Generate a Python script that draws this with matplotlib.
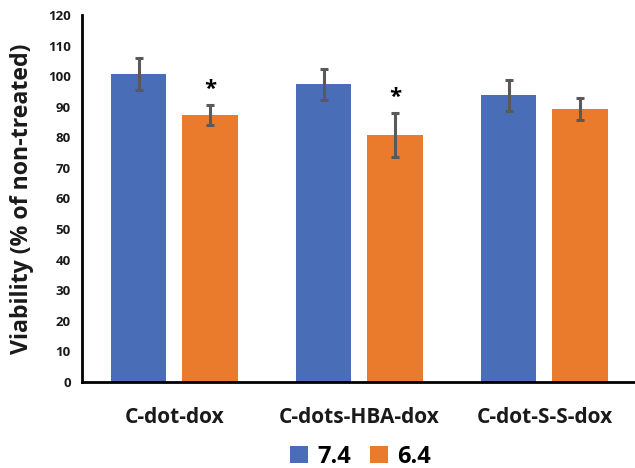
import matplotlib
matplotlib.use("Agg")
import matplotlib.pyplot as plt
import numpy as np
from matplotlib.patches import Patch

plt.rcParams['font.family'] = ['Open Sans', 'DejaVu Sans']

categories = ["C-dot-dox", "C-dots-HBA-dox", "C-dot-S-S-dox"]
series_names = ["7.4", "6.4"]
ph74 = [100.6, 97.3, 93.7]
ph74_err = [5.2, 5.1, 5.0]
ph64 = [87.3, 80.8, 89.3]
ph64_err = [3.3, 7.2, 3.5]
significant_64 = [True, True, False]
yticks = list(range(0, 121, 10))

blue = "#4A6DB8"
orange = "#EA7B2C"
err_color = "#595959"

fig = plt.figure(figsize=(6.35, 4.68), dpi=100)
ax = fig.add_axes([0.129, 0.184, 0.874, 0.784])

x = np.arange(len(categories))
w = 0.30
off = 0.193
err_kw = dict(ecolor=err_color, elinewidth=2.2, capsize=3, capthick=2.2)
ax.bar(x - off, ph74, w, color=blue, yerr=ph74_err, error_kw=err_kw, zorder=2)
ax.bar(x + off, ph64, w, color=orange, yerr=ph64_err, error_kw=err_kw, zorder=2)

for xi, v, e, sig in zip(x, ph64, ph64_err, significant_64):
    if sig:
        ax.text(xi + off, v + e + 5.0, "*", ha="center", va="center",
                fontsize=16, fontweight="bold", color="black")

ax.set_xlim(-0.5, 2.5)
ax.set_ylim(0, 120)
ax.set_yticks(yticks)
ax.set_xticks(x)
ax.set_xticklabels(categories, fontsize=15, fontweight="bold", color="#1a1a1a")
for lab in ax.get_yticklabels():
    lab.set_fontsize(9.5)
    lab.set_fontweight("bold")
    lab.set_color("#1a1a1a")
ax.tick_params(axis="both", length=0)
ax.tick_params(axis="y", pad=8)
ax.tick_params(axis="x", pad=18)

for s in ["top", "right"]:
    ax.spines[s].set_visible(False)
ax.spines["left"].set_linewidth(2)
ax.spines["bottom"].set_linewidth(2)
ax.spines["left"].set_color("black")
ax.spines["bottom"].set_color("black")

ax.set_ylabel("Viability (% of non-treated)", fontsize=16.7, fontweight="bold",
              color="#1a1a1a", labelpad=10)

handles = [Patch(facecolor=blue), Patch(facecolor=orange)]
fig.legend(handles, series_names, loc="center", bbox_to_anchor=(0.568, 0.024),
           ncol=2, frameon=False, prop={"weight": "bold", "size": 17},
           handlelength=0.75, handleheight=0.75, handletextpad=0.4, columnspacing=0.8)

fig.savefig("out.png", dpi=100)
